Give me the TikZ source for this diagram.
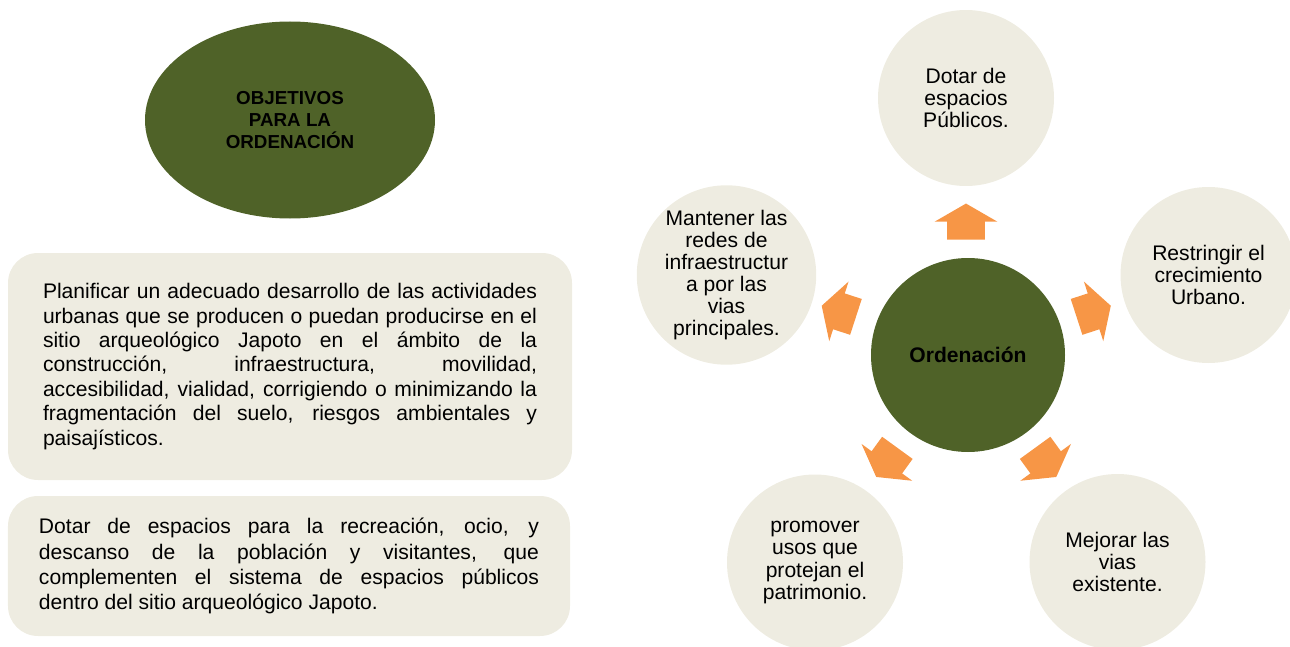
\documentclass[tikz,border=0pt]{standalone}
\usepackage{fontspec}
\setmainfont{Liberation Sans}
\usetikzlibrary{shapes.geometric,shapes.arrows,positioning}
\definecolor{olivegreen}{HTML}{4F6228}
\definecolor{paperbeige}{HTML}{EEECE1}
\definecolor{accorange}{HTML}{F79646}
\tolerance=9999

\begin{document}
\begin{tikzpicture}[
    textbox/.style={fill=paperbeige, rounded corners=0.6cm, align=justify, inner sep=0pt, font=\fontsize{12}{13.9}\selectfont},
    goalcircle/.style={circle, fill=paperbeige, minimum size=3.52cm, inner sep=0pt, align=center, font=\fontsize{12}{12.6}\selectfont},
    outarrow/.style={single arrow, fill=accorange, inner xsep=0pt, inner ysep=0.37cm, minimum height=0.72cm, single arrow head extend=0.25cm, single arrow tip angle=120}
]
        % Frame
        \useasboundingbox (0,0) rectangle (25.8,12.92);
        \clip (0,0) rectangle (25.8,12.92);

        % LEFT SIDE
        \node[ellipse, fill=olivegreen, minimum width=5.8cm, minimum height=3.94cm, inner sep=0pt, align=center, font=\fontsize{10.7}{12.4}\selectfont\bfseries] (objetivos) at (5.8,10.52) {
            OBJETIVOS\\
            PARA LA\\
            ORDENACIÓN
        };

        \node[textbox, text width=9.88cm, minimum width=11.28cm, minimum height=4.54cm] (planificar) at (5.8,5.59) {Planificar un adecuado desarrollo de las actividades\linebreak
            urbanas que se producen o puedan producirse en el\linebreak
            sitio arqueológico Japoto en el ámbito de la\linebreak
            construcción, infraestructura, movilidad,\linebreak
            accesibilidad, vialidad, corrigiendo o minimizando la\linebreak
            fragmentación del suelo, riesgos ambientales y\linebreak
            paisajísticos.};

        \node[textbox, text width=10cm, minimum width=11.24cm, minimum height=2.8cm, font=\fontsize{12}{14.3}\selectfont] (dotarbox) at (5.78,1.6) {Dotar de espacios para la recreación, ocio, y\linebreak
            descanso de la población y visitantes, que\linebreak
            complementen el sistema de espacios públicos\linebreak
            dentro del sitio arqueológico Japoto.};

        % RIGHT SIDE
        \node[circle, fill=olivegreen, minimum size=3.88cm, inner sep=0pt, font=\fontsize{12}{14}\selectfont\bfseries] (orden) at (19.36,5.82) {Ordenación};

        \node[goalcircle] (publicos) at (19.32,10.96) {Dotar de\\espacios\\Públicos.};
        \node[goalcircle] (urbano) at (24.17,7.42) {Restringir el\\crecimiento\\Urbano.};
        \node[goalcircle] (vias) at (22.35,1.68) {Mejorar las\\vias\\existente.};
        \node[goalcircle] (patrimonio) at (16.3,1.67) {promover\\usos que\\protejan el\\patrimonio.};
        \node[goalcircle] (redes) at (14.53,7.42) {Mantener las\\redes de\\infraestructur\\a por las\\vias\\principales.};

        % Arrows
        \node[outarrow, rotate=90] (flechaA) at (19.32,8.38) {};
        \node[outarrow, rotate=18] (flechaB) at (21.77,6.66) {};
        \node[outarrow, rotate=-54] (flechaC) at (20.85,3.76) {};
        \node[outarrow, rotate=-126] (flechaD) at (17.8,3.76) {};
        \node[outarrow, rotate=162] (flechaE) at (16.88,6.66) {};

    \end{tikzpicture}
\end{document}
